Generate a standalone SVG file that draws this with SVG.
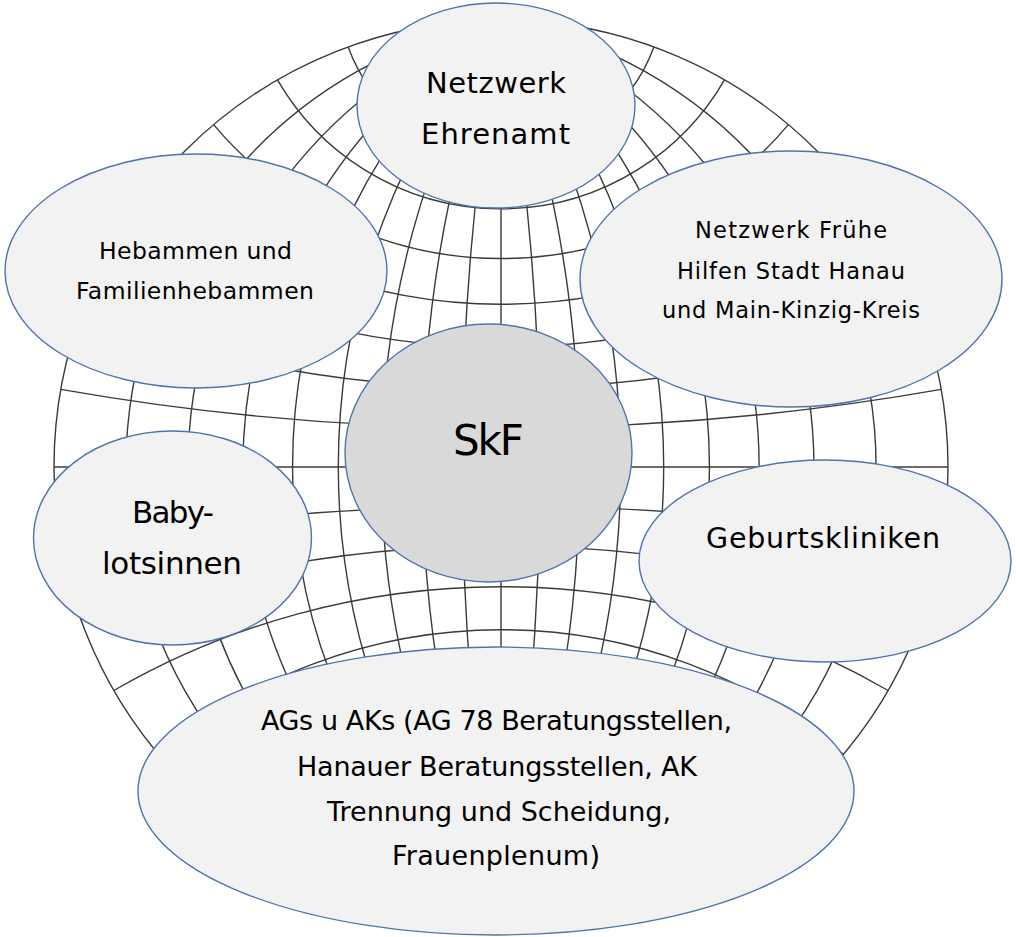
<svg xmlns="http://www.w3.org/2000/svg" width="1016" height="937" viewBox="0 0 1016 937">
  <style>
    .g { fill: none; stroke: #3a3a3a; stroke-width: 1.4; }
    .n { fill: #f2f2f2; stroke: #4f73ad; stroke-width: 1.4; }
    .c { fill: #d9d9d9; stroke: #4f73ad; stroke-width: 1.4; }
    text { font-family: "DejaVu Sans", "Open Sans", "Liberation Sans", sans-serif; fill: #000; }
  </style>
  <rect x="0" y="0" width="1016" height="937" fill="#ffffff"/>
  <g id="globe-grid">
    <circle class="g" cx="501" cy="467" r="447"/>
    <line class="g" x1="54" y1="467" x2="948" y2="467"/>
    <line class="g" x1="501" y1="20" x2="501" y2="914"/>
    <path class="g" d="M60.79,389.38 A2535.1,2535.1 0 0 0 941.21,389.38"/>
    <path class="g" d="M80.96,314.12 A1228.1,1228.1 0 0 0 921.04,314.12"/>
    <path class="g" d="M113.88,243.5 A774.24,774.24 0 0 0 888.12,243.5"/>
    <path class="g" d="M158.58,179.67 A532.71,532.71 0 0 0 843.42,179.67"/>
    <path class="g" d="M213.67,124.58 A375.08,375.08 0 0 0 788.33,124.58"/>
    <path class="g" d="M277.5,79.88 A258.08,258.08 0 0 0 724.5,79.88"/>
    <path class="g" d="M348.12,46.96 A162.69,162.69 0 0 0 653.88,46.96"/>
    <path class="g" d="M423.38,26.79 A78.82,78.82 0 0 0 578.62,26.79"/>
    <path class="g" d="M60.79,544.62 A2535.1,2535.1 0 0 1 941.21,544.62"/>
    <path class="g" d="M80.96,619.88 A1228.1,1228.1 0 0 1 921.04,619.88"/>
    <path class="g" d="M113.88,690.5 A774.24,774.24 0 0 1 888.12,690.5"/>
    <path class="g" d="M158.58,754.33 A532.71,532.71 0 0 1 843.42,754.33"/>
    <path class="g" d="M213.67,809.42 A375.08,375.08 0 0 1 788.33,809.42"/>
    <path class="g" d="M277.5,854.12 A258.08,258.08 0 0 1 724.5,854.12"/>
    <path class="g" d="M348.12,887.04 A162.69,162.69 0 0 1 653.88,887.04"/>
    <path class="g" d="M423.38,907.21 A78.82,78.82 0 0 1 578.62,907.21"/>
    <path class="g" d="M501,20 A2574.1,2574.1 0 0 1 501,914"/>
    <path class="g" d="M501,20 A1306.9,1306.9 0 0 1 501,914"/>
    <path class="g" d="M501,20 A894,894 0 0 1 501,914"/>
    <path class="g" d="M501,20 A695.4,695.4 0 0 1 501,914"/>
    <path class="g" d="M501,20 A583.5,583.5 0 0 1 501,914"/>
    <path class="g" d="M501,20 A516.1,516.1 0 0 1 501,914"/>
    <path class="g" d="M501,20 A475.7,475.7 0 0 1 501,914"/>
    <path class="g" d="M501,20 A453.9,453.9 0 0 1 501,914"/>
    <path class="g" d="M501,20 A2574.1,2574.1 0 0 0 501,914"/>
    <path class="g" d="M501,20 A1306.9,1306.9 0 0 0 501,914"/>
    <path class="g" d="M501,20 A894,894 0 0 0 501,914"/>
    <path class="g" d="M501,20 A695.4,695.4 0 0 0 501,914"/>
    <path class="g" d="M501,20 A583.5,583.5 0 0 0 501,914"/>
    <path class="g" d="M501,20 A516.1,516.1 0 0 0 501,914"/>
    <path class="g" d="M501,20 A475.7,475.7 0 0 0 501,914"/>
    <path class="g" d="M501,20 A453.9,453.9 0 0 0 501,914"/>
  </g>
  <g id="connectors"></g>
  <g id="node-ehrenamt">
    <ellipse class="n" cx="496" cy="105.5" rx="139" ry="102.5"/>
    <text x="426" y="93" font-size="29" textLength="140">Netzwerk</text>
    <text x="421" y="144" font-size="29" textLength="149">Ehrenamt</text>
  </g>
  <g id="node-hebammen">
    <ellipse class="n" cx="196" cy="271" rx="191" ry="117"/>
    <text x="99" y="259" font-size="23.5" textLength="193">Hebammen und</text>
    <text x="76" y="299" font-size="23.5" textLength="238">Familienhebammen</text>
  </g>
  <g id="node-fruehe-hilfen">
    <ellipse class="n" cx="791" cy="279" rx="211" ry="128"/>
    <text x="695" y="238" font-size="22.5" textLength="192">Netzwerk Frühe</text>
    <text x="677" y="279" font-size="22.5" textLength="228">Hilfen Stadt Hanau</text>
    <text x="662" y="318" font-size="22.5" textLength="258">und Main-Kinzig-Kreis</text>
  </g>
  <g id="node-skf">
    <ellipse class="c" cx="488.5" cy="453" rx="143.5" ry="129"/>
    <text x="453" y="455" font-size="42" textLength="71">SkF</text>
  </g>
  <g id="node-babylotsinnen">
    <ellipse class="n" cx="172.5" cy="538" rx="139" ry="107"/>
    <text x="132" y="523" font-size="31" textLength="82">Baby-</text>
    <text x="102" y="574" font-size="31" textLength="140">lotsinnen</text>
  </g>
  <g id="node-geburtskliniken">
    <ellipse class="n" cx="825" cy="561" rx="186" ry="101"/>
    <text x="706" y="548" font-size="28.5" textLength="234">Geburtskliniken</text>
  </g>
  <g id="node-ags-aks">
    <ellipse class="n" cx="496" cy="791" rx="358" ry="144"/>
    <text x="261" y="730" font-size="27" textLength="471">AGs u AKs (AG 78 Beratungsstellen,</text>
    <text x="297" y="776" font-size="27" textLength="400">Hanauer Beratungsstellen, AK</text>
    <text x="327" y="821" font-size="27" textLength="344">Trennung und Scheidung,</text>
    <text x="392" y="865" font-size="27" textLength="208">Frauenplenum)</text>
  </g>
</svg>
